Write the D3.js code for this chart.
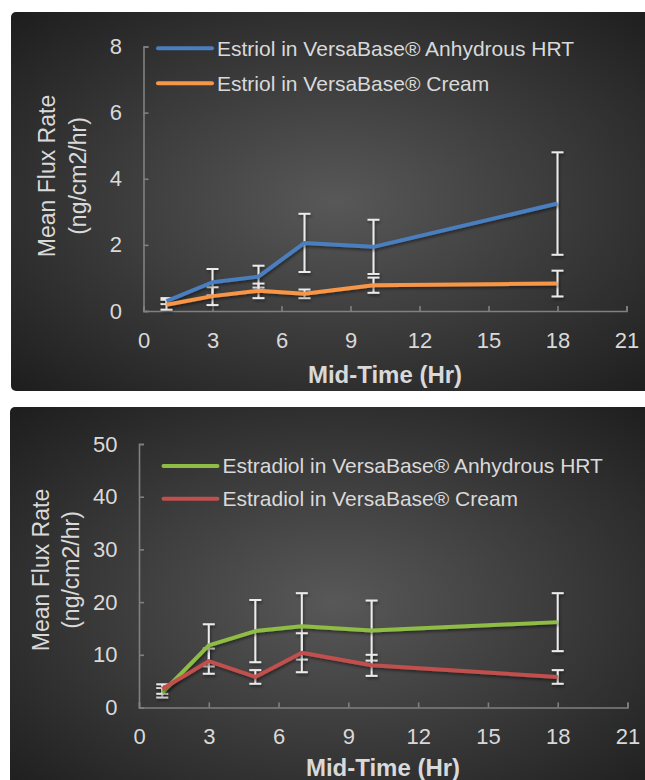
<!DOCTYPE html>
<html>
<head>
<meta charset="utf-8">
<script src="https://cdn.jsdelivr.net/npm/d3@7"></script>
<style>
  body { margin: 0; background: #fff; }
  svg { display: block; font-family: "Liberation Sans", Arial, sans-serif; }
</style>
</head>
<body>
<div id="vis"></div>
<script>
// mid-time points (hr), same for every series
var midTimes = [1, 3, 5, 7, 10, 18];
var xTicks = [0, 3, 6, 9, 12, 15, 18, 21];

// estriol panel
var estriolHrt = [0.30, 0.87, 1.04, 2.06, 1.94, 3.25];
var estriolHrtErr = [0.09, 0.40, 0.33, 0.88, 0.82, 1.55];
var estriolCream = [0.19, 0.45, 0.61, 0.52, 0.78, 0.83];
var estriolCreamErr = [0.15, 0.27, 0.22, 0.13, 0.23, 0.39];
var estriolYTicks = [0, 2, 4, 6, 8];

// estradiol panel
var estradiolHrt = [2.8, 11.8, 14.5, 15.4, 14.6, 16.2];
var estradiolHrtErr = [0.9, 4.0, 5.9, 6.3, 5.7, 5.5];
var estradiolCream = [3.5, 8.8, 5.8, 10.4, 8.0, 5.8];
var estradiolCreamErr = [0.9, 2.4, 1.3, 3.7, 2.0, 1.3];
var estradiolYTicks = [0, 10, 20, 30, 40, 50];

var svg = d3.select("#vis").append("svg")
    .attr("width", 645)
    .attr("height", 780);

var defs = svg.append("defs");
var grad = defs.append("radialGradient")
    .attr("id", "bg")
    .attr("cx", "0.5").attr("cy", "0.5").attr("r", "0.72");
grad.append("stop").attr("offset", "0%").attr("stop-color", "#585858");
grad.append("stop").attr("offset", "100%").attr("stop-color", "#1c1c1c");

defs.append("filter")
    .attr("id", "shadow")
    .attr("x", "-10%").attr("y", "-10%").attr("width", "120%").attr("height", "140%")
    .append("feDropShadow")
    .attr("dx", 1).attr("dy", 2).attr("stdDeviation", 1.5)
    .attr("flood-color", "#000").attr("flood-opacity", 0.45);

function drawPanel(p) {
    var g = svg.append("g");

    g.append("rect")
        .attr("x", p.box[0]).attr("y", p.box[1])
        .attr("width", p.box[2]).attr("height", p.box[3])
        .attr("rx", 5)
        .attr("fill", "url(#bg)");

    var x = d3.scaleLinear().domain([0, 21]).range(p.xRange);
    var y = d3.scaleLinear().domain(p.yDomain).range(p.yRange);

    var xAxis = g.append("g")
        .attr("transform", "translate(0," + p.yRange[0] + ")")
        .call(d3.axisBottom(x).tickValues(xTicks).tickSize(-5).tickPadding(21));
    var yAxis = g.append("g")
        .attr("transform", "translate(" + p.xRange[0] + ",0)")
        .call(d3.axisLeft(y).tickValues(p.yTicks).tickSize(-5).tickPadding(21.5));

    [xAxis, yAxis].forEach(function (a) {
        a.select(".domain").attr("stroke", "#808080").attr("stroke-width", 1.6);
        a.selectAll(".tick line").attr("stroke", "#808080").attr("stroke-width", 1.6);
        a.selectAll(".tick text")
            .attr("fill", "#d9d9d9")
            .style("font-size", "22px")
            .style("font-family", "'Liberation Sans', Arial, sans-serif");
    });

    // error bars under the lines
    p.series.forEach(function (s) {
        var eb = g.append("g").attr("filter", "url(#shadow)");
        midTimes.forEach(function (t, i) {
            var cx = x(t), lo = y(s.values[i] - s.err[i]), hi = y(s.values[i] + s.err[i]);
            eb.append("line")
                .attr("x1", cx).attr("x2", cx).attr("y1", lo).attr("y2", hi);
            eb.append("line")
                .attr("x1", cx - 6).attr("x2", cx + 6).attr("y1", lo).attr("y2", lo);
            eb.append("line")
                .attr("x1", cx - 6).attr("x2", cx + 6).attr("y1", hi).attr("y2", hi);
        });
        eb.selectAll("line").attr("stroke", "#ebebeb").attr("stroke-width", 2);
    });

    var line = d3.line()
        .x(function (d, i) { return x(midTimes[i]); })
        .y(function (d) { return y(d); });

    p.series.forEach(function (s) {
        g.append("path")
            .datum(s.values)
            .attr("d", line)
            .attr("fill", "none")
            .attr("stroke", s.color)
            .attr("stroke-width", 4)
            .attr("stroke-linejoin", "round")
            .attr("filter", "url(#shadow)");
    });

    // legend
    p.series.forEach(function (s, i) {
        var ly = p.legend.y + i * p.legend.step;
        g.append("line")
            .attr("x1", p.legend.x).attr("x2", p.legend.x + 54)
            .attr("y1", ly).attr("y2", ly)
            .attr("stroke", s.color).attr("stroke-width", 4)
            .attr("stroke-linecap", "round");
        g.append("text")
            .attr("x", p.legend.x + 59).attr("y", ly)
            .attr("dy", "0.35em")
            .attr("fill", "#d9d9d9")
            .style("font-size", "21px")
            .text(s.name);
    });

    // axis titles
    var yt = g.append("text")
        .attr("transform", "translate(" + p.yTitle[0] + "," + p.yTitle[1] + ") rotate(-90)")
        .attr("text-anchor", "middle")
        .attr("fill", "#d9d9d9")
        .style("font-size", "23px");
    yt.append("tspan").attr("x", 0).attr("dy", "0.35em").text("Mean Flux Rate");
    yt.append("tspan").attr("x", 0).attr("dy", p.yTitle[2]).text("(ng/cm2/hr)");

    g.append("text")
        .attr("x", p.xTitle[0]).attr("y", p.xTitle[1])
        .attr("text-anchor", "middle")
        .attr("fill", "#d9d9d9")
        .style("font-size", "24px")
        .style("font-weight", "bold")
        .text("Mid-Time (Hr)");
}

drawPanel({
    box: [11, 12, 650, 379],
    xRange: [143.5, 626.5],
    yDomain: [0, 8],
    yRange: [311, 46.5],
    yTicks: estriolYTicks,
    legend: { x: 158, y: 48.3, step: 35 },
    yTitle: [47, 176, 31],
    xTitle: [385, 383],
    series: [
        { name: "Estriol in VersaBase® Anhydrous HRT", color: "#4a7ebf", values: estriolHrt, err: estriolHrtErr },
        { name: "Estriol in VersaBase® Cream", color: "#f79646", values: estriolCream, err: estriolCreamErr }
    ]
});

drawPanel({
    box: [10, 407, 650, 390],
    xRange: [139, 627.5],
    yDomain: [0, 50],
    yRange: [707.5, 444],
    yTicks: estradiolYTicks,
    legend: { x: 163.5, y: 466, step: 32.7 },
    yTitle: [41, 570, 30],
    xTitle: [383, 776],
    series: [
        { name: "Estradiol in VersaBase® Anhydrous HRT", color: "#8fbc45", values: estradiolHrt, err: estradiolHrtErr },
        { name: "Estradiol in VersaBase® Cream", color: "#c0504d", values: estradiolCream, err: estradiolCreamErr }
    ]
});
</script>
</body>
</html>
